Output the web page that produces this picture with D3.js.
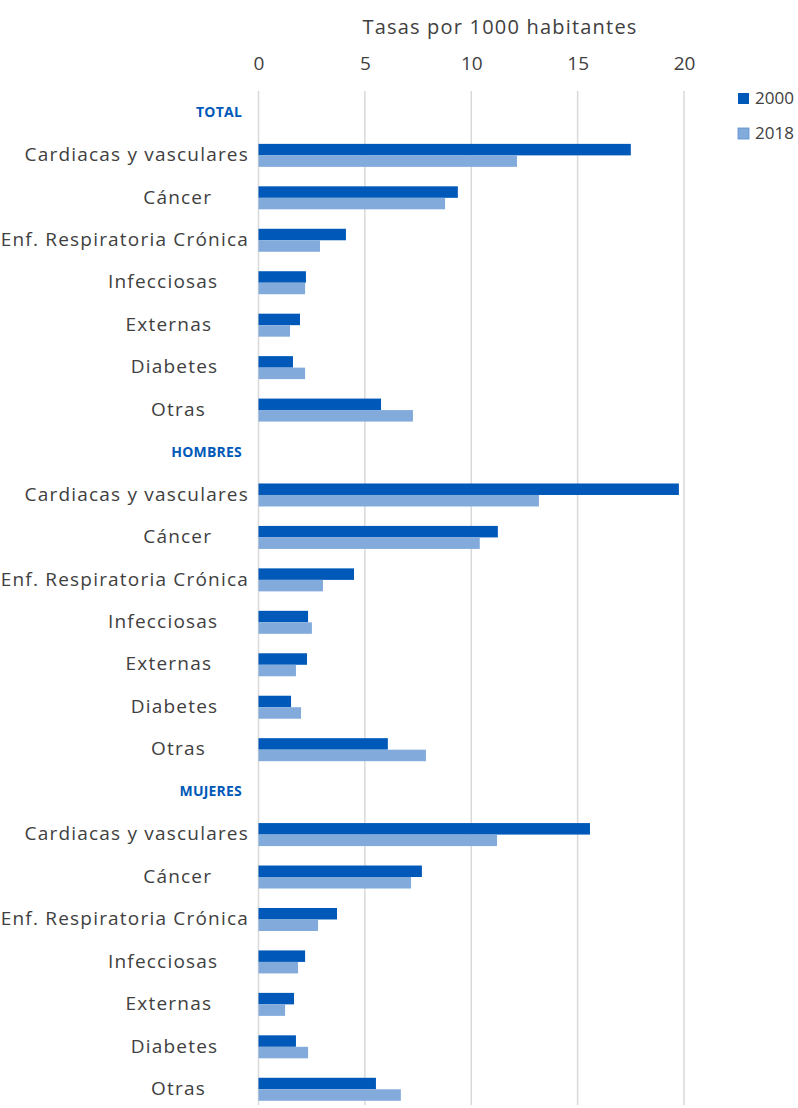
<!DOCTYPE html>
<html>
<head>
<meta charset="utf-8">
<script src="https://cdn.jsdelivr.net/npm/d3@7"></script>
<style>
  html, body { margin: 0; padding: 0; background: #ffffff; }
  svg { display: block; }
  text { white-space: pre; }
</style>
</head>
<body>
<svg id="chart" width="798" height="1108" xml:space="preserve"></svg>
<script>
// ---- data ----
const groups = ["TOTAL", "HOMBRES", "MUJERES"];
const categories = [
  "Cardiacas y vasculares",
  "Cáncer      ",
  "Enf. Respiratoria Crónica",
  "Infecciosas     ",
  "Externas      ",
  "Diabetes     ",
  "Otras       "
];
const series = ["2000", "2018"];
const total2000   = [17.5, 9.37, 4.11, 2.23, 1.95, 1.62, 5.76];
const total2018   = [12.15, 8.77, 2.89, 2.19, 1.48, 2.19, 7.26];
const hombres2000 = [19.76, 11.25, 4.49, 2.33, 2.28, 1.53, 6.08];
const hombres2018 = [13.18, 10.4, 3.03, 2.51, 1.76, 2.0, 7.87];
const mujeres2000 = [15.58, 7.68, 3.69, 2.19, 1.67, 1.76, 5.52];
const mujeres2018 = [11.21, 7.17, 2.80, 1.86, 1.25, 2.33, 6.69];
const xTicks = [0, 5, 10, 15, 20];
const axisTitle = "Tasas por 1000 habitantes";

const valuesByGroup = {
  TOTAL:   [total2000, total2018],
  HOMBRES: [hombres2000, hombres2018],
  MUJERES: [mujeres2000, mujeres2018]
};

// rows: header row followed by category rows for each group
const rows = [];
groups.forEach(g => {
  rows.push({ key: g + "|", group: g, header: true, label: g });
  categories.forEach((c, i) => {
    rows.push({
      key: g + "|" + c, group: g, header: false, label: c,
      values: series.map((s, si) => ({ series: s, value: valuesByGroup[g][si][i] }))
    });
  });
});

// ---- layout ----
const colors = { "2000": "#0059B8", "2018": "#82ABDB" };
const textColor = "#404040";
const fontFam = "'Open Sans', 'DejaVu Sans', sans-serif";

const svg = d3.select("#chart");

const x = d3.scaleLinear().domain([0, 20]).range([258.5, 684]);
const y = d3.scaleBand().domain(rows.map(r => r.key)).range([91.7, 91.7 + 24 * 42.45]);
const inner = d3.scaleBand().domain(series).range([0, 23]);
const barOffset = (y.bandwidth() - 23) / 2;

// gridlines
svg.append("g")
  .selectAll("line")
  .data(xTicks)
  .join("line")
  .attr("x1", d => x(d)).attr("x2", d => x(d))
  .attr("y1", 91).attr("y2", 1105)
  .attr("stroke", "#d9d9d9")
  .attr("stroke-width", 1.5);

// top axis labels
const axis = d3.axisTop(x).tickValues(xTicks).tickSize(0).tickPadding(0);
const ag = svg.append("g").attr("transform", "translate(0,70)").call(axis);
ag.select(".domain").remove();
ag.selectAll("text")
  .attr("fill", textColor)
  .attr("font-size", 19)
  .attr("font-family", fontFam);

// axis title
svg.append("text")
  .attr("x", 500).attr("y", 34)
  .attr("text-anchor", "middle")
  .attr("fill", textColor)
  .attr("font-size", 20)
  .attr("letter-spacing", 1.2)
  .attr("font-family", fontFam)
  .text(axisTitle);

// bars
const rowG = svg.append("g")
  .selectAll("g")
  .data(rows.filter(r => !r.header))
  .join("g")
  .attr("transform", r => `translate(0,${y(r.key) + barOffset})`);

rowG.selectAll("rect")
  .data(r => r.values)
  .join("rect")
  .attr("x", x(0))
  .attr("y", d => inner(d.series))
  .attr("width", d => x(d.value) - x(0))
  .attr("height", inner.bandwidth())
  .attr("fill", d => colors[d.series]);

// category labels
svg.append("g")
  .selectAll("text")
  .data(rows)
  .join("text")
  .attr("x", r => r.header ? 242 : 249)
  .attr("y", r => y(r.key) + y.bandwidth() / 2)
  .attr("dy", "0.3em")
  .attr("text-anchor", "end")
  .attr("fill", r => r.header ? "#0059B8" : textColor)
  .attr("font-weight", r => r.header ? "bold" : "normal")
  .attr("font-size", r => r.header ? 14 : 19)
  .attr("letter-spacing", r => r.header ? 0.2 : 1.2)
  .attr("font-family", fontFam)
  .text(r => r.label);

// legend
const lg = svg.append("g")
  .selectAll("g")
  .data(series)
  .join("g")
  .attr("transform", (d, i) => `translate(738,${93 + i * 35})`);
lg.append("rect")
  .attr("width", 11).attr("height", 11)
  .attr("fill", d => colors[d])
  .attr("stroke", d => d === "2018" ? "#5b8fcf" : "none")
  .attr("stroke-width", 0.8);
lg.append("text")
  .attr("x", 17).attr("y", 5.5)
  .attr("dy", "0.35em")
  .attr("fill", textColor)
  .attr("font-size", 17)
  .attr("font-family", fontFam)
  .text(d => d);
</script>
</body>
</html>
